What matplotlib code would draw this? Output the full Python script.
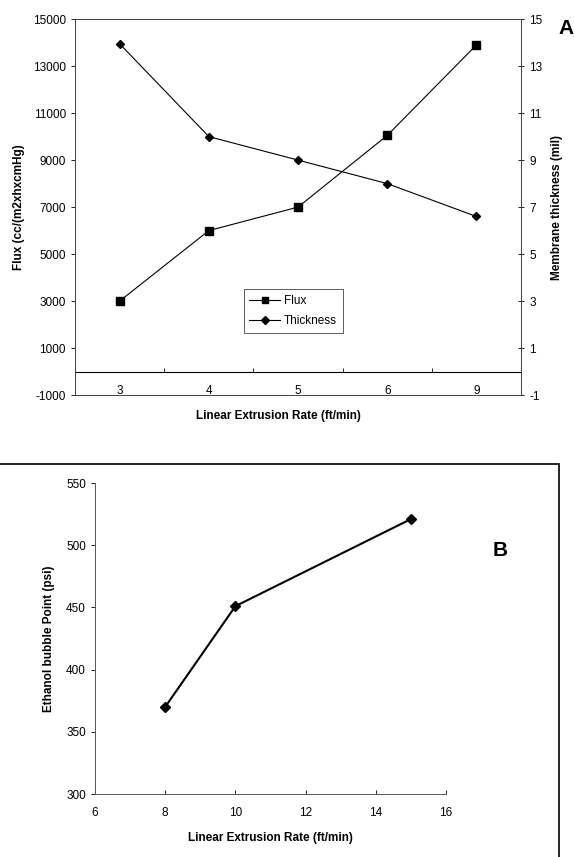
import numpy as np
import matplotlib
matplotlib.use('Agg')
import matplotlib.pyplot as plt
from matplotlib.patches import Rectangle

plt.rcParams['font.family'] = ['Liberation Sans', 'DejaVu Sans']
plt.rcParams['axes.unicode_minus'] = False

# Panel A data
rate_cats = ['3', '4', '5', '6', '9']
flux = [3000, 6000, 7000, 10050, 13900]
thickness = [13.95, 10.0, 9.0, 8.0, 6.6]

# Panel B data
rate_b = [8, 10, 15]
bubble_point = [370, 451, 521]

fig = plt.figure(figsize=(5.74, 8.57), dpi=100)

# ---- Panel A ----
ax = fig.add_axes([0.1307, 0.539, 0.777, 0.4387])
pos = np.arange(len(rate_cats))
l1, = ax.plot(pos, flux, color='black', lw=0.8, marker='s', ms=5.5, label='Flux')
ax.set_xlim(-0.5, len(rate_cats) - 0.5)
ax.set_ylim(-1000, 15000)
ax.set_yticks(np.arange(-1000, 15001, 2000))
ax.set_xticks(pos)
ax.set_xticklabels(rate_cats)
ax.set_xticks(pos[:-1] + 0.5, minor=True)
ax.spines['bottom'].set_position(('data', 0))
ax.spines['bottom'].set_linewidth(0.8)
ax.tick_params(axis='x', which='major', length=0, pad=10, labelsize=8.5)
ax.tick_params(axis='x', which='minor', length=3, direction='in')
ax.tick_params(axis='y', direction='out', length=3, labelsize=8.5, width=0.6)
ax.set_ylabel('Flux (cc/(m2xhxcmHg)', fontsize=8.5, fontweight='bold', labelpad=6)

ax2 = ax.twinx()
l2, = ax2.plot(pos, thickness, color='black', lw=0.8, marker='D', ms=4.5, label='Thickness')
ax2.set_ylim(-1, 15)
ax2.set_yticks(np.arange(-1, 16, 2))
ax2.tick_params(axis='y', direction='inout', length=5, labelsize=8.5, width=0.6)
ax2.set_ylabel('Membrane thickness (mil)', fontsize=8.5, fontweight='bold', labelpad=6)
for s in ['top', 'bottom', 'left', 'right']:
    ax2.spines[s].set_linewidth(0.7)
    ax2.spines[s].set_color('#444444')
for s in ['top', 'left', 'right']:
    ax.spines[s].set_linewidth(0.7)
    ax.spines[s].set_color('#444444')

leg = ax.legend([l1, l2], ['Flux', 'Thickness'], loc='center',
                bbox_to_anchor=(0.489, 0.223), fontsize=8.5, frameon=True,
                fancybox=False, edgecolor='#333333', handlelength=2.6,
                handletextpad=0.3, borderpad=0.5, labelspacing=0.7,
                markerscale=0.85)
leg.get_frame().set_linewidth(0.7)

fig.text(0.485, 0.515, 'Linear Extrusion Rate (ft/min)', ha='center', va='center',
         fontsize=8.5, fontweight='bold')
fig.text(0.986, 0.967, 'A', ha='center', va='center', fontsize=15, fontweight='bold')

# ---- Panel B ----
bx = fig.add_axes([0.1655, 0.0735, 0.6115, 0.3629])
bx.plot(rate_b, bubble_point, color='black', lw=1.5, marker='D', ms=5)
bx.set_xlim(6, 16)
bx.set_ylim(300, 550)
bx.set_xticks(np.arange(6, 17, 2))
bx.set_yticks(np.arange(300, 551, 50))
bx.spines['top'].set_visible(False)
bx.spines['right'].set_visible(False)
bx.spines['left'].set_linewidth(0.7)
bx.spines['bottom'].set_linewidth(0.7)
bx.spines['left'].set_color('#555555')
bx.spines['bottom'].set_color('#555555')
bx.tick_params(axis='y', direction='out', length=3, labelsize=8.5, width=0.6)
bx.tick_params(axis='x', direction='in', length=3, labelsize=8.5, width=0.6, pad=9)
bx.set_xlabel('Linear Extrusion Rate (ft/min)', fontsize=8.5, fontweight='bold', labelpad=10)
bx.set_ylabel('Ethanol bubble Point (psi)', fontsize=8.5, fontweight='bold', labelpad=8)
fig.text(0.871, 0.358, 'B', ha='center', va='center', fontsize=15, fontweight='bold')

fig.patches.append(Rectangle((-0.01, -0.05), 0.984, 0.5086, transform=fig.transFigure,
                             fill=False, edgecolor='black', linewidth=1.2))

fig.savefig('out.png', dpi=100)
